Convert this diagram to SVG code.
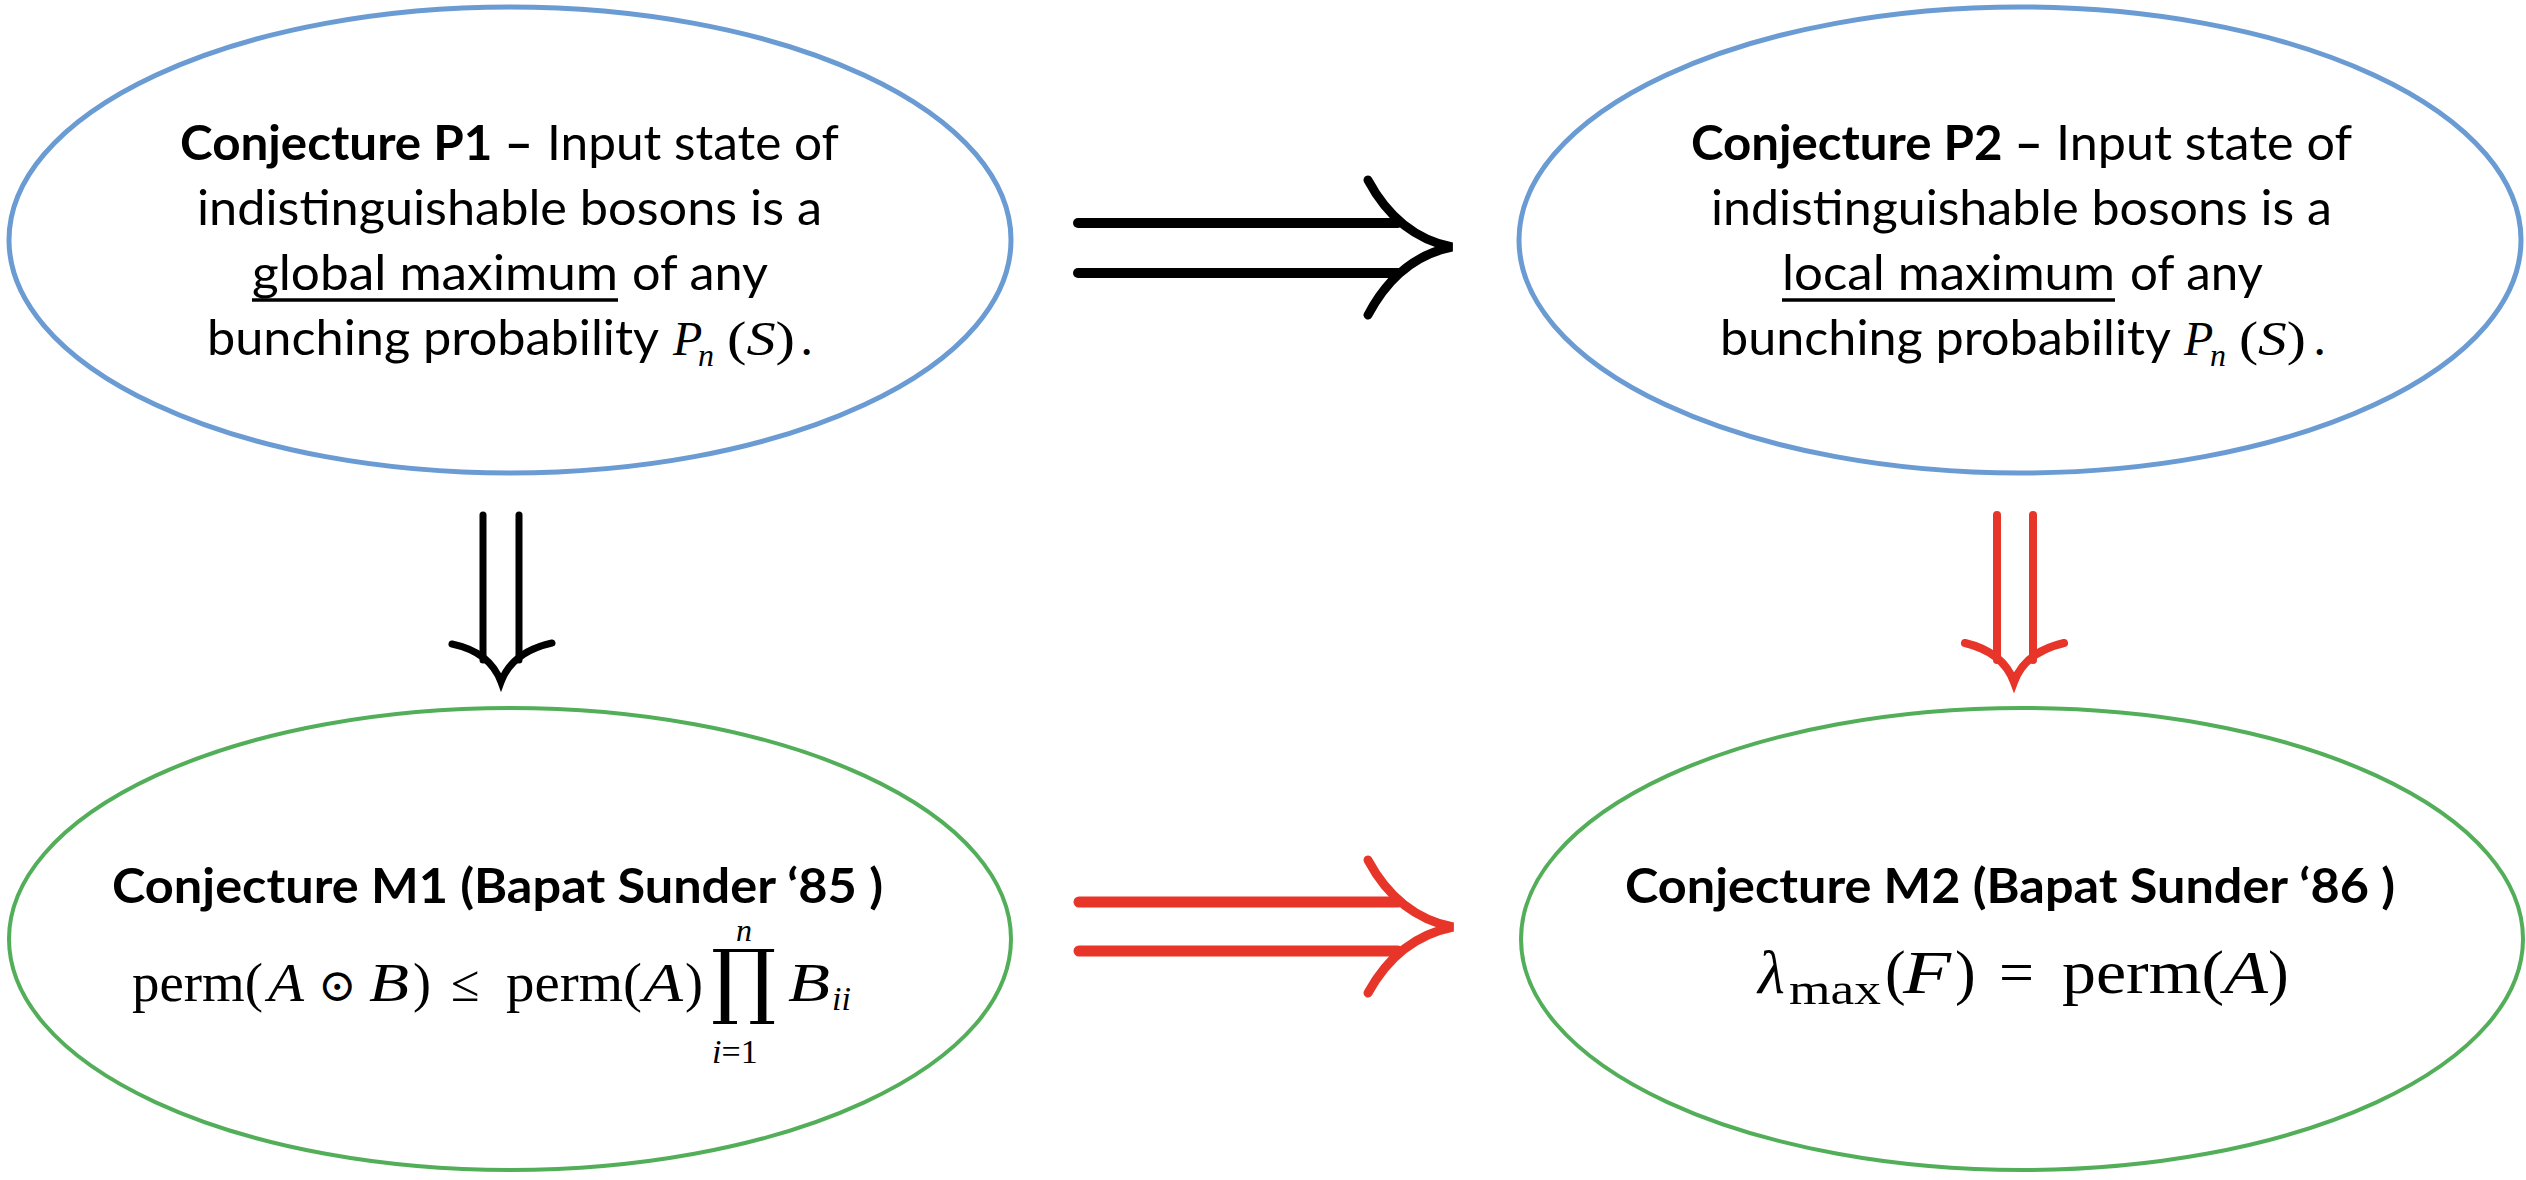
<svg xmlns="http://www.w3.org/2000/svg" width="2526" height="1180" viewBox="0 0 2526 1180">
<style>
.bg{fill:#ffffff}
.eb{fill:#ffffff;stroke:#6A9BD3;stroke-width:5}
.eg{fill:#ffffff;stroke:#52AE58;stroke-width:4}
.t{font-family:Lato,"Open Sans","Liberation Sans",sans-serif;font-size:48px;fill:#000}
.tb{font-family:Lato,"Open Sans","Liberation Sans",sans-serif;font-size:48px;font-weight:bold;fill:#000}
.m{font-family:"Liberation Serif","DejaVu Serif",serif;fill:#000}
.mi{font-family:"Liberation Serif","DejaVu Serif",serif;font-style:italic;fill:#000}
.ul{stroke:#000;stroke-width:3.5}
.ak{fill:none;stroke:#000;stroke-linecap:round}
.ar{fill:none;stroke:#E8352A;stroke-linecap:round}
</style>
<rect class="bg" x="0" y="0" width="2526" height="1180"/>

<g id="P1">
<ellipse class="eb" cx="510" cy="240" rx="501" ry="233"/>
<text class="tb" x="180" y="160" textLength="353" lengthAdjust="spacingAndGlyphs">Conjecture P1 –</text>
<text class="t" x="547" y="160" textLength="292" lengthAdjust="spacingAndGlyphs">Input state of</text>
<text class="t" x="197" y="225" textLength="625" lengthAdjust="spacingAndGlyphs">indistinguishable bosons is a</text>
<text class="t" x="252" y="290" textLength="366" lengthAdjust="spacingAndGlyphs">global maximum</text>
<line class="ul" x1="252" y1="300" x2="618" y2="300"/>
<text class="t" x="632" y="290" textLength="136" lengthAdjust="spacingAndGlyphs">of any</text>
<text class="t" x="207" y="355" textLength="452" lengthAdjust="spacingAndGlyphs">bunching probability</text>
<text class="mi" x="673" y="355" font-size="48">P</text>
<text class="mi" x="698" y="366" font-size="32">n</text>
<text class="m" x="727" y="355" font-size="48" textLength="68" lengthAdjust="spacingAndGlyphs">(<tspan font-style="italic">S</tspan>)</text>
<text class="t" x="801" y="355">.</text>
</g>

<g id="P2">
<ellipse class="eb" cx="2020" cy="240" rx="501" ry="233"/>
<text class="tb" x="1691" y="160" textLength="352" lengthAdjust="spacingAndGlyphs">Conjecture P2 –</text>
<text class="t" x="2056" y="160" textLength="296" lengthAdjust="spacingAndGlyphs">Input state of</text>
<text class="t" x="1711" y="225" textLength="621" lengthAdjust="spacingAndGlyphs">indistinguishable bosons is a</text>
<text class="t" x="1782" y="290" textLength="333" lengthAdjust="spacingAndGlyphs">local maximum</text>
<line class="ul" x1="1782" y1="300" x2="2115" y2="300"/>
<text class="t" x="2130" y="290" textLength="133" lengthAdjust="spacingAndGlyphs">of any</text>
<text class="t" x="1720" y="355" textLength="451" lengthAdjust="spacingAndGlyphs">bunching probability</text>
<text class="mi" x="2184" y="355" font-size="48">P</text>
<text class="mi" x="2210" y="366" font-size="32">n</text>
<text class="m" x="2239" y="355" font-size="48" textLength="67" lengthAdjust="spacingAndGlyphs">(<tspan font-style="italic">S</tspan>)</text>
<text class="t" x="2314" y="355">.</text>
</g>

<g id="M1">
<ellipse class="eg" cx="510" cy="939" rx="501" ry="231"/>
<text class="tb" x="112" y="903" textLength="771" lengthAdjust="spacingAndGlyphs">Conjecture M1 (Bapat Sunder ‘85 )</text>
<text class="m" x="132" y="1001" font-size="54" textLength="131" lengthAdjust="spacingAndGlyphs">perm(</text>
<text class="mi" x="268" y="1001" font-size="54" textLength="36" lengthAdjust="spacingAndGlyphs">A</text>
<text class="m" x="318" y="1001" font-size="46" font-family="DejaVu Sans, sans-serif">⊙</text>
<text class="mi" x="369" y="1001" font-size="54" textLength="40" lengthAdjust="spacingAndGlyphs">B</text>
<text class="m" x="413" y="1001" font-size="54">)</text>
<text class="m" x="451" y="1001" font-size="52">≤</text>
<text class="m" x="506" y="1001" font-size="54" textLength="136" lengthAdjust="spacingAndGlyphs">perm(</text>
<text class="mi" x="643" y="1001" font-size="54" textLength="40" lengthAdjust="spacingAndGlyphs">A</text>
<text class="m" x="685" y="1001" font-size="54">)</text>
<text class="m" font-size="34"><tspan x="711" y="1008" font-size="82" font-family="DejaVu Serif, serif">∏</tspan><tspan x="736" y="941" font-size="32" font-style="italic">n</tspan><tspan x="712" y="1063" font-style="italic">i</tspan><tspan>=1</tspan></text>
<text class="mi" x="788" y="1001" font-size="54" textLength="42" lengthAdjust="spacingAndGlyphs">B</text>
<text class="mi" x="832" y="1010" font-size="34">ii</text>
</g>

<g id="M2">
<ellipse class="eg" cx="2022" cy="939" rx="501" ry="231"/>
<text class="tb" x="1625" y="903" textLength="770" lengthAdjust="spacingAndGlyphs">Conjecture M2 (Bapat Sunder ‘86 )</text>
<text class="mi" x="1758" y="993" font-size="62">λ</text>
<text class="m" x="1789" y="1004" font-size="44" textLength="92" lengthAdjust="spacingAndGlyphs">max</text>
<text class="m" x="1885" y="993" font-size="62">(</text>
<text class="mi" x="1903" y="993" font-size="62" textLength="48" lengthAdjust="spacingAndGlyphs">F</text>
<text class="m" x="1955" y="993" font-size="62">)</text>
<text class="m" x="1999" y="993" font-size="62">=</text>
<text class="m" x="2062" y="993" font-size="62" textLength="162" lengthAdjust="spacingAndGlyphs">perm(</text>
<text class="mi" x="2224" y="993" font-size="62" textLength="44" lengthAdjust="spacingAndGlyphs">A</text>
<text class="m" x="2268" y="993" font-size="62">)</text>
</g>

<g id="connectors">
<g class="ak" stroke-width="10">
<path d="M1078,223 H1398"/>
<path d="M1078,273 H1398"/>
<path stroke-width="9" d="M1368,180 Q1398,236 1452,247 Q1398,258 1368,315"/>
</g>
<g class="ar" stroke-width="11">
<path d="M1079,902 H1398"/>
<path d="M1079,951 H1398"/>
<path stroke-width="9" d="M1368,860 Q1398,916 1453,927 Q1398,938 1368,993"/>
</g>
<g class="ak" stroke-width="7">
<path d="M483,515 V660"/>
<path d="M519,515 V660"/>
<path d="M452,644 Q490,652 501,682 Q512,652 552,643"/>
</g>
<g class="ar" stroke-width="8">
<path d="M1997,515 V660"/>
<path d="M2033,515 V660"/>
<path d="M1965,643 Q2003,652 2014,682 Q2025,652 2064,643"/>
</g>
</g>
</svg>
